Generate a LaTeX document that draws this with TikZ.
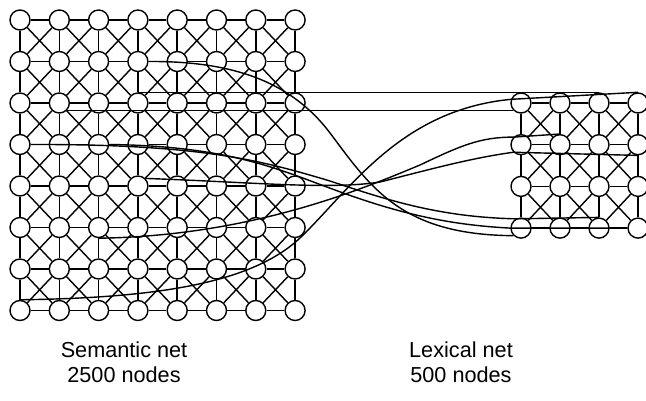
\documentclass[tikz,border=0pt]{standalone}
\usepackage{fontspec}
\setmainfont{Liberation Sans}
\begin{document}
\begin{tikzpicture}[x=0.03cm,y=-0.03cm,line width=1.2pt,
  netnode/.style={circle,draw,fill=white,minimum size=0.6cm,inner sep=0pt},
  netlabel/.style={align=center,anchor=north,inner sep=0pt,font=\fontsize{18.5}{21.5}\selectfont}]
\useasboundingbox (0,0) rectangle (646,401);
% semantic net
\foreach \r in {0,...,7} {\foreach \c in {0,...,7} {\node[netnode] (s-\r-\c) at ({20+39.3*\c},{20+41.5*\r}) {};}}
\foreach \r in {0,...,7} {\foreach \c [count=\d from 1] in {0,...,6} {\draw (s-\r-\c) -- (s-\r-\d);}}
\foreach \r [count=\q from 1] in {0,...,6} {\foreach \c in {0,...,7} {\draw (s-\r-\c) -- (s-\q-\c);}}
\foreach \r [count=\q from 1] in {0,...,6} {\foreach \c [count=\d from 1] in {0,...,6} {\draw (s-\r-\c) -- (s-\q-\d); \draw (s-\r-\d) -- (s-\q-\c);}}

% lexical net
\foreach \r in {0,...,3} {\foreach \c in {0,...,3} {\node[netnode] (l-\r-\c) at ({521+39*\c},{103+41.7*\r}) {};}}
\foreach \r in {0,...,3} {\foreach \c [count=\d from 1] in {0,...,2} {\draw (l-\r-\c) -- (l-\r-\d);}}
\foreach \r [count=\q from 1] in {0,...,2} {\foreach \c in {0,...,3} {\draw (l-\r-\c) -- (l-\q-\c);}}
\foreach \r [count=\q from 1] in {0,...,2} {\foreach \c [count=\d from 1] in {0,...,2} {\draw (l-\r-\c) -- (l-\q-\d); \draw (l-\r-\d) -- (l-\q-\c);}}

% links between the nets
\draw (s-1-3.east) .. controls (230,61) and (290,80) .. (330,133) .. controls (370,186) and (400,235) .. (l-3-0.south west);
\draw (s-2-3.north) -- (l-0-2.north);
\draw (s-2-1.south east) -- (l-0-0.south west);
\draw (s-3-0.east) .. controls (200,144) and (260,160) .. (330,181) .. controls (390,201) and (440,217) .. (l-3-0.120) -- (l-3-2.north);
\draw (s-3-2.east) .. controls (230,146) and (280,170) .. (335,190) .. controls (400,214) and (450,225) .. (l-3-0.west) -- (l-3-3);
\draw (s-7-0.north) .. controls (150,298) and (250,285) .. (300,238) .. controls (350,190) and (400,110) .. (l-0-0.160) -- (l-0-3.north);
\draw (s-5-2.south) .. controls (250,236) and (360,190) .. (420,165) .. controls (460,146) and (480,137) .. (l-1-0.north west) -- (l-1-1.north);
\draw (s-4-3.north east) .. controls (250,182) and (330,190) .. (380,182) .. controls (420,172) and (470,158) .. (l-1-0.south west) -- (l-1-3.south);

\node[netlabel] (semlabel) at (124,341) {Semantic net\\2500 nodes};
\node[netlabel] (lexlabel) at (461,341) {Lexical net\\500 nodes};
\end{tikzpicture}
\end{document}
